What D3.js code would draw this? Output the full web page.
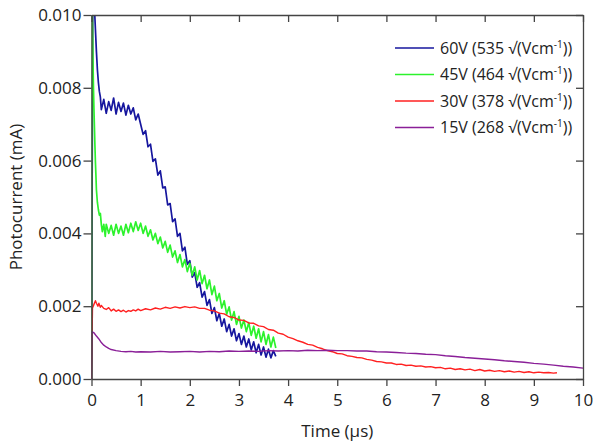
<!DOCTYPE html>
<html><head><meta charset="utf-8">
<script src="https://cdn.jsdelivr.net/npm/d3@7"></script>
<style>
html,body{margin:0;padding:0;background:#fff;}
svg text{font-family:"Open Sans",sans-serif;fill:#222;}
</style></head>
<body><svg id="c" width="593" height="445"></svg>
<script>
// ---- data (time in µs, photocurrent in mA) ----
const xTicks = [0,1,2,3,4,5,6,7,8,9,10];
const yTicks = [0.000,0.002,0.004,0.006,0.008,0.010];
const seriesNames = ["60V (535 \u221A(Vcm", "45V (464 \u221A(Vcm", "30V (378 \u221A(Vcm", "15V (268 \u221A(Vcm"];
const seriesColors = ["#16169e", "#2cf22c", "#ff2020", "#8a1f98"];

const t60 = [0,0.03,0.05,0.08,0.10,0.12,0.14,0.16,0.18,0.20,0.25,0.30,0.35,0.40,0.45,0.50,0.55,0.60,0.65,0.70,0.75,0.80,0.85,0.90,0.95,1.00,1.05,1.10,1.15,1.20,1.25,1.30,1.35,1.40,1.45,1.50,1.55,1.60,1.65,1.70,1.75,1.80,1.85,1.90,1.95,2.00,2.05,2.10,2.15,2.20,2.25,2.30,2.35,2.40,2.45,2.50,2.55,2.60,2.65,2.70,2.75,2.80,2.85,2.90,2.95,3.00,3.05,3.10,3.15,3.20,3.25,3.30,3.35,3.40,3.45,3.50,3.55,3.60,3.65,3.70,3.75];
const i60 = [0,0.01200,0.01050,0.00960,0.00900,0.00850,0.00815,0.00790,0.00775,0.00740,0.00768,0.00730,0.00762,0.00738,0.00772,0.00728,0.00760,0.00735,0.00758,0.00725,0.00752,0.00728,0.00745,0.00712,0.00728,0.00700,0.00672,0.00682,0.00638,0.00645,0.00598,0.00605,0.00560,0.00572,0.00525,0.00528,0.00478,0.00482,0.00432,0.00440,0.00392,0.00400,0.00352,0.00362,0.00315,0.00325,0.00280,0.00292,0.00252,0.00265,0.00225,0.00240,0.00202,0.00218,0.00180,0.00196,0.00160,0.00180,0.00145,0.00165,0.00130,0.00150,0.00118,0.00138,0.00105,0.00125,0.00095,0.00118,0.00088,0.00110,0.00080,0.00102,0.00072,0.00095,0.00066,0.00088,0.00060,0.00082,0.00058,0.00078,0.00062];

const t45 = [0,0.01,0.02,0.03,0.04,0.05,0.06,0.07,0.08,0.09,0.10,0.12,0.14,0.16,0.18,0.20,0.22,0.25,0.28,0.30,0.35,0.40,0.45,0.50,0.55,0.60,0.65,0.70,0.75,0.80,0.85,0.90,0.95,1.00,1.05,1.10,1.15,1.20,1.25,1.30,1.35,1.40,1.45,1.50,1.55,1.60,1.65,1.70,1.75,1.80,1.85,1.90,1.95,2.00,2.05,2.10,2.15,2.20,2.25,2.30,2.35,2.40,2.45,2.50,2.55,2.60,2.65,2.70,2.75,2.80,2.85,2.90,2.95,3.00,3.05,3.10,3.15,3.20,3.25,3.30,3.35,3.40,3.45,3.50,3.55,3.60,3.65,3.70,3.75];
const i45 = [0,0.01100,0.00980,0.00880,0.00800,0.00740,0.00690,0.00640,0.00595,0.00560,0.00520,0.00485,0.00465,0.00450,0.00455,0.00425,0.00405,0.00425,0.00392,0.00425,0.00400,0.00422,0.00395,0.00425,0.00400,0.00420,0.00395,0.00425,0.00402,0.00428,0.00405,0.00432,0.00408,0.00428,0.00400,0.00420,0.00392,0.00410,0.00382,0.00400,0.00372,0.00390,0.00360,0.00378,0.00348,0.00368,0.00335,0.00352,0.00320,0.00342,0.00308,0.00328,0.00295,0.00318,0.00285,0.00308,0.00272,0.00298,0.00262,0.00285,0.00248,0.00272,0.00232,0.00255,0.00215,0.00235,0.00195,0.00215,0.00178,0.00198,0.00162,0.00185,0.00150,0.00172,0.00140,0.00162,0.00130,0.00155,0.00120,0.00145,0.00112,0.00138,0.00102,0.00130,0.00095,0.00122,0.00088,0.00115,0.00085];

const t30 = [0,0.02,0.05,0.08,0.10,0.13,0.15,0.18,0.20,0.25,0.30,0.35,0.40,0.45,0.50,0.55,0.60,0.65,0.70,0.75,0.80,0.85,0.90,0.95,1.0,1.1,1.2,1.3,1.4,1.5,1.6,1.7,1.8,1.9,2.0,2.1,2.2,2.3,2.4,2.5,2.6,2.7,2.8,2.9,3.0,3.1,3.2,3.3,3.4,3.5,3.6,3.7,3.8,3.9,4.0,4.1,4.2,4.3,4.4,4.5,4.6,4.7,4.8,4.9,5.0,5.1,5.2,5.3,5.4,5.5,5.6,5.7,5.8,5.9,6.0,6.1,6.2,6.3,6.4,6.5,6.6,6.7,6.8,6.9,7.0,7.1,7.2,7.3,7.4,7.5,7.6,7.7,7.8,7.9,8.0,8.1,8.2,8.3,8.4,8.5,8.6,8.7,8.8,8.9,9.0,9.1,9.2,9.3,9.4,9.47];
const i30 = [0,0.00195,0.00205,0.00215,0.00208,0.00200,0.00208,0.00197,0.00202,0.00194,0.00191,0.00196,0.00187,0.00192,0.00186,0.00190,0.00185,0.00189,0.00184,0.00188,0.00186,0.00190,0.00187,0.00192,0.00188,0.00193,0.00190,0.00195,0.00192,0.00197,0.00194,0.00198,0.00195,0.00199,0.00196,0.00198,0.00194,0.00194,0.00189,0.00187,0.00181,0.00179,0.00171,0.00169,0.00162,0.00161,0.00154,0.00153,0.00146,0.00144,0.00136,0.00134,0.00126,0.00123,0.00115,0.00111,0.00105,0.00101,0.00095,0.00093,0.00087,0.00083,0.00078,0.00075,0.00070,0.00069,0.00064,0.00062,0.00059,0.00058,0.00054,0.00052,0.00048,0.00047,0.00044,0.00044,0.00040,0.00041,0.00037,0.00038,0.00035,0.00036,0.00033,0.00034,0.00031,0.00032,0.00028,0.00030,0.00026,0.00028,0.00025,0.00027,0.00023,0.00026,0.00022,0.00024,0.00021,0.00023,0.00020,0.00022,0.00019,0.00021,0.00018,0.00020,0.00017,0.00019,0.00017,0.00018,0.00016,0.00017];

const t15 = [0,0.01,0.05,0.10,0.15,0.20,0.25,0.30,0.35,0.40,0.50,0.60,0.70,0.80,0.90,1.0,1.2,1.4,1.6,1.8,2.0,2.2,2.4,2.6,2.8,3.0,3.2,3.4,3.6,3.8,4.0,4.2,4.4,4.6,4.8,5.0,5.2,5.4,5.6,5.8,6.0,6.2,6.4,6.6,6.8,7.0,7.2,7.4,7.6,7.8,8.0,8.2,8.4,8.6,8.8,9.0,9.2,9.4,9.6,9.8,10.0];
const i15 = [0,0.00130,0.00127,0.00118,0.00110,0.00100,0.00093,0.00088,0.00084,0.00081,0.00078,0.00076,0.00075,0.00076,0.00074,0.00075,0.00074,0.00076,0.00074,0.00075,0.00076,0.00074,0.00076,0.00075,0.00077,0.00076,0.00077,0.00076,0.00078,0.00077,0.00078,0.00077,0.00079,0.00078,0.00079,0.00078,0.00078,0.00077,0.00077,0.00075,0.00074,0.00073,0.00071,0.00070,0.00068,0.00067,0.00064,0.00062,0.00059,0.00057,0.00055,0.00053,0.00050,0.00048,0.00046,0.00043,0.00041,0.00038,0.00035,0.00033,0.00030];

const series = [
  {t:t60, v:i60, w:1.7},
  {t:t45, v:i45, w:1.7},
  {t:t30, v:i30, w:1.4},
  {t:t15, v:i15, w:1.4}
];

// ---- drawing ----
const svg = d3.select("#c");
const L=91.5, R=583, T=15, B=379;
const x = d3.scaleLinear().domain([0,10]).range([L,R]);
const y = d3.scaleLinear().domain([0,0.010]).range([B,T]);

svg.append("defs").append("clipPath").attr("id","clip")
  .append("rect").attr("x",L).attr("y",T).attr("width",R-L).attr("height",B-T);

const line = d3.line().x(d=>x(d[0])).y(d=>y(d[1]));
const g = svg.append("g").attr("clip-path","url(#clip)");
series.forEach((s,k)=>{
  g.append("path").datum(s.t.map((tt,j)=>[tt,s.v[j]]))
    .attr("d",line).attr("fill","none")
    .attr("stroke",seriesColors[k]).attr("stroke-width",s.w)
    .attr("stroke-linejoin","round");
});

const axisColor = "#444";
function styleAxis(sel, labels){
  sel.selectAll("path").attr("stroke",axisColor).attr("stroke-width",1.3);
  sel.selectAll("line").attr("stroke",axisColor).attr("stroke-width",1.3);
  sel.selectAll("text").attr("font-size",17).attr("font-family","'Open Sans',sans-serif").attr("fill","#222");
  if(!labels) sel.selectAll("text").remove();
}
const gB = svg.append("g").attr("transform",`translate(0,${B})`)
  .call(d3.axisBottom(x).tickValues(xTicks).tickFormat(d3.format("d")).tickSizeInner(7).tickSizeOuter(0).tickPadding(8));
styleAxis(gB,true);
const gL = svg.append("g").attr("transform",`translate(${L},0)`)
  .call(d3.axisLeft(y).tickValues(yTicks).tickFormat(d3.format(".3f")).tickSizeInner(8).tickSizeOuter(0).tickPadding(2));
styleAxis(gL,true);
const gT = svg.append("g").attr("transform",`translate(0,${T})`)
  .call(d3.axisTop(x).tickValues(xTicks).tickSizeInner(-7).tickSizeOuter(0));
styleAxis(gT,false);
const gR = svg.append("g").attr("transform",`translate(${R},0)`)
  .call(d3.axisRight(y).tickValues(yTicks).tickSizeInner(-7).tickSizeOuter(0));
styleAxis(gR,false);

// axis titles
svg.append("text").attr("x",(L+R)/2).attr("y",437).attr("text-anchor","middle")
  .attr("font-size",17).text("Time (\u03BCs)");
svg.append("text").attr("transform",`translate(22,${(T+B)/2}) rotate(-90)`)
  .attr("text-anchor","middle").attr("font-size",17).text("Photocurrent (mA)");

// legend
const lg = svg.append("g");
seriesNames.forEach((name,k)=>{
  const yy = 48 + k*26.5;
  lg.append("line").attr("x1",395).attr("x2",434).attr("y1",yy).attr("y2",yy)
    .attr("stroke",seriesColors[k]).attr("stroke-width",1.4);
  const tx = lg.append("text").attr("x",440).attr("y",yy+5.5).attr("font-size",16);
  tx.append("tspan").text(name);
  tx.append("tspan").attr("dy",-6).attr("font-size",10).text("-1");
  tx.append("tspan").attr("dy",6).text("))");
});
</script></body></html>
